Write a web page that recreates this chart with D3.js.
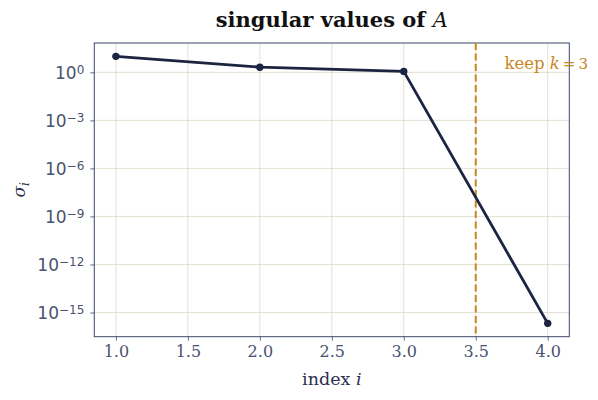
<!DOCTYPE html>
<html><head><meta charset="utf-8">
<script src="https://cdn.jsdelivr.net/npm/d3@7"></script>
<style>body{margin:0;background:#fff}svg{display:block}</style>
</head><body>
<script>
const indices = [1, 2, 3, 4];
const sigma = [10, 2.1, 1.15, 2.1e-16];
const xTicks = [1.0, 1.5, 2.0, 2.5, 3.0, 3.5, 4.0];
const yTickExps = [0, -3, -6, -9, -12, -15];
const cutoff = 3.5;
const keepLabel = 3;

const W = 598, H = 400;
const m = {left: 94.3, right: 569.3, top: 43, bottom: 336.7};
const navy = "#1b2440", tickCol = "#4a5270", spine = "#3d4668", grid = "#ddd8c8", orange = "#c8861e";

const svg = d3.select("body").append("svg").attr("width", W).attr("height", H);
const x = d3.scaleLinear().domain([0.85, 4.15]).range([m.left, m.right]);
const lmin = Math.log10(d3.min(sigma)), lmax = Math.log10(d3.max(sigma));
const pad = (lmax - lmin) * 0.05;
const y = d3.scaleLog().domain([Math.pow(10, lmin - pad), Math.pow(10, lmax + pad)]).range([m.bottom, m.top]);

// grid
svg.append("g").selectAll("line").data(xTicks).join("line")
  .attr("x1", d => x(d)).attr("x2", d => x(d)).attr("y1", m.top).attr("y2", m.bottom)
  .attr("stroke", grid).attr("stroke-width", 0.8);
svg.append("g").selectAll("line").data(yTickExps).join("line")
  .attr("y1", d => y(Math.pow(10, d))).attr("y2", d => y(Math.pow(10, d))).attr("x1", m.left).attr("x2", m.right)
  .attr("stroke", grid).attr("stroke-width", 0.8);

// x axis
const xAxis = d3.axisBottom(x).tickValues(xTicks).tickFormat(d3.format(".1f")).tickSize(4).tickPadding(5);
const gx = svg.append("g").attr("transform", `translate(0,${m.bottom})`).call(xAxis);
gx.select(".domain").remove();
gx.selectAll(".tick line").attr("stroke", spine).attr("stroke-width", 0.8);
gx.selectAll(".tick text").attr("fill", tickCol).attr("font-family", "DejaVu Serif").attr("font-size", 16);

// y axis
const yAxis = d3.axisLeft(y).tickValues(yTickExps.map(e => Math.pow(10, e))).tickSize(4).tickPadding(5).tickFormat("");
const gy = svg.append("g").attr("transform", `translate(${m.left},0)`).call(yAxis);
gy.select(".domain").remove();
gy.selectAll(".tick line").attr("stroke", spine).attr("stroke-width", 0.8);
gy.selectAll(".tick").each(function(d) {
  const e = Math.round(Math.log10(d));
  const t = d3.select(this).append("text").attr("x", -10).attr("dy", "0.36em")
    .attr("text-anchor", "end").attr("fill", tickCol).attr("font-family", "DejaVu Sans").attr("font-size", 17);
  t.append("tspan").text("10");
  t.append("tspan").attr("dy", "-0.45em").attr("font-size", 12).text(e === 0 ? "0" : "\u2212" + Math.abs(e));
});

// frame
svg.append("rect").attr("x", m.left).attr("y", m.top).attr("width", m.right - m.left).attr("height", m.bottom - m.top)
  .attr("fill", "none").attr("stroke", spine).attr("stroke-width", 1);

// cutoff line
svg.append("line").attr("x1", x(cutoff)).attr("x2", x(cutoff)).attr("y1", m.top).attr("y2", m.bottom)
  .attr("stroke", orange).attr("stroke-width", 2).attr("stroke-dasharray", "7,3.5");

// series
const pts = indices.map((d, i) => [d, sigma[i]]);
svg.append("path").datum(pts).attr("fill", "none").attr("stroke", navy).attr("stroke-width", 2.8)
  .attr("stroke-linejoin", "round")
  .attr("d", d3.line().x(d => x(d[0])).y(d => y(d[1])));
svg.append("g").selectAll("circle").data(pts).join("circle")
  .attr("cx", d => x(d[0])).attr("cy", d => y(d[1])).attr("r", 3.7).attr("fill", navy);

// keep label
const kt = svg.append("text").attr("x", x(3.7)).attr("y", y(1) - 3).attr("fill", orange)
  .attr("font-family", "DejaVu Serif").attr("font-size", 16.5);
kt.append("tspan").text("keep ");
kt.append("tspan").attr("font-style", "italic").text("k");
kt.append("tspan").attr("font-size", 15).text("\u2009=\u2009" + keepLabel);

// title
const tt = svg.append("text").attr("x", (m.left + m.right) / 2).attr("y", 27).attr("text-anchor", "middle")
  .attr("font-family", "DejaVu Serif").attr("font-weight", "bold").attr("font-size", 21).attr("fill", "#111");
tt.append("tspan").text("singular values of ");
tt.append("tspan").attr("font-style", "italic").attr("font-weight", "normal").text("A");

// x label
const xl = svg.append("text").attr("x", (m.left + m.right) / 2).attr("y", 385).attr("text-anchor", "middle")
  .attr("font-family", "DejaVu Serif").attr("font-size", 17.5).attr("fill", "#2a3050");
xl.append("tspan").text("index ");
xl.append("tspan").attr("font-style", "italic").text("i");

// y label
const yl = svg.append("text").attr("transform", `translate(25,${(m.top + m.bottom) / 2}) rotate(-90)`)
  .attr("text-anchor", "middle").attr("font-family", "DejaVu Serif").attr("font-size", 17).attr("fill", "#2a3050");
yl.append("tspan").attr("font-style", "italic").text("\u03c3");
yl.append("tspan").attr("font-style", "italic").attr("font-size", 12).attr("dy", "0.3em").text("i");
</script>
</body></html>
